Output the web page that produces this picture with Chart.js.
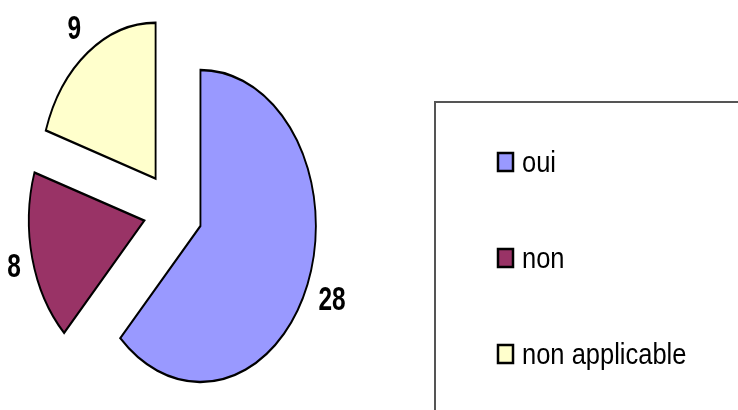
<!DOCTYPE html>
<html>
<head>
<meta charset="utf-8">
<script src="https://cdn.jsdelivr.net/npm/chart.js@4.4.1/dist/chart.umd.min.js"></script>
<style>
  html, body { margin: 0; padding: 0; background: #fff; }
  #wrap { width: 738px; height: 410px; position: relative; }
</style>
</head>
<body>
<div id="wrap"><canvas id="pie" width="738" height="410"></canvas></div>
<script>
// Data
const categories = ['oui', 'non', 'non applicable'];
const counts = [28, 8, 9];
const sliceColors = ['#9999ff', '#993366', '#ffffcc'];

// the pie in the original is an ellipse, slices pulled out
const SQUEEZE = 0.74;
const EXPLODE = 40;
const RADIUS = 156;

function squeezeX(ctx, cx, k) {
    ctx.translate(cx, 0);
    ctx.scale(k, 1);
    ctx.translate(-cx, 0);
}

function shiftArcs(arcs, sign) {
    arcs.forEach(a => {
        const mid = (a.startAngle + a.endAngle) / 2;
        a.x += sign * Math.cos(mid) * EXPLODE;
        a.y += sign * Math.sin(mid) * EXPLODE;
    });
}

// --- exploded, squeezed pie + value labels ---
const explodedPie = {
    id: 'explodedPie',
    beforeDatasetsDraw(chart) {
        const arcs = chart.getDatasetMeta(0).data;
        const ctx = chart.ctx;
        ctx.save();
        squeezeX(ctx, arcs[0].x, SQUEEZE);
        shiftArcs(arcs, 1);
    },
    afterDatasetsDraw(chart) {
        const ctx = chart.ctx;
        const arcs = chart.getDatasetMeta(0).data;
        const values = chart.data.datasets[0].data;

        ctx.font = 'bold 33px "Liberation Sans", Arial, sans-serif';
        ctx.fillStyle = '#000';
        ctx.textAlign = 'center';
        ctx.textBaseline = 'alphabetic';
        const hh = 12;
        arcs.forEach((a, i) => {
            const mid = (a.startAngle + a.endAngle) / 2;
            const txt = String(values[i]);
            const hw = ctx.measureText(txt).width / 2;
            const c = Math.cos(mid), s = Math.sin(mid);
            const d = a.outerRadius + 16 +
                Math.min(hw / Math.max(Math.abs(c), 1e-6), hh / Math.max(Math.abs(s), 1e-6));
            ctx.fillText(txt, a.x + c * d, a.y + s * d + hh);
        });

        shiftArcs(arcs, -1);
        ctx.restore();
    }
};

// --- legend in a box on the right ---
const legendBox = {
    id: 'legendBox',
    afterDraw(chart) {
        const ctx = chart.ctx;
        const left = 435, top = 102;
        ctx.save();
        ctx.strokeStyle = '#555';
        ctx.lineWidth = 2;
        ctx.beginPath();
        ctx.moveTo(left, chart.height + 5);
        ctx.lineTo(left, top);
        ctx.lineTo(chart.width + 5, top);
        ctx.stroke();

        const colors = chart.data.datasets[0].backgroundColor;
        chart.data.labels.forEach((label, i) => {
            const yc = top + 60 + i * 96;
            ctx.fillStyle = colors[i];
            ctx.fillRect(498, yc - 9, 15, 18);
            ctx.strokeStyle = '#000';
            ctx.lineWidth = 2.5;
            ctx.strokeRect(498, yc - 9, 15, 18);

            ctx.save();
            squeezeX(ctx, 522, 0.85);
            ctx.fillStyle = '#000';
            ctx.font = '30px "Liberation Sans", Arial, sans-serif';
            ctx.textAlign = 'left';
            ctx.textBaseline = 'alphabetic';
            ctx.fillText(label, 522, yc + 10);
            ctx.restore();
        });
        ctx.restore();
    }
};

const myChart = new Chart(document.getElementById('pie').getContext('2d'), {
    type: 'pie',
    data: {
        labels: categories,
        datasets: [{
            data: counts,
            backgroundColor: sliceColors,
            borderColor: '#000',
            borderWidth: 2.5,
            borderJoinStyle: 'miter',
            clip: false
        }]
    },
    options: {
        responsive: false,
        devicePixelRatio: 1,
        animation: false,
        events: [],
        radius: RADIUS,
        layout: { padding: { left: 0, right: 392, top: 12, bottom: 0 } },
        plugins: {
            legend: { display: false },
            tooltip: { enabled: false }
        }
    },
    plugins: [explodedPie, legendBox]
});
</script>
</body>
</html>
